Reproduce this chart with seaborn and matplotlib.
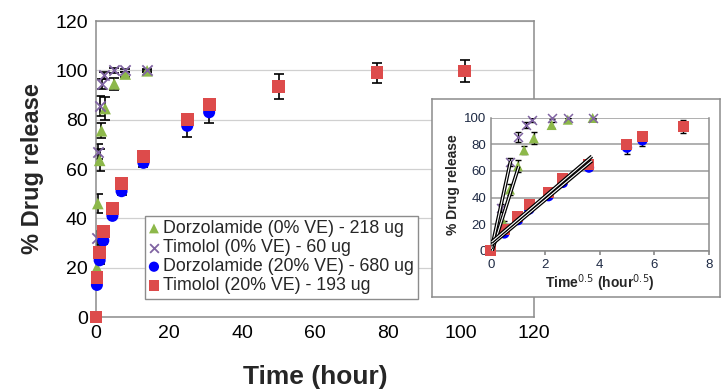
# Drug release profiles: main plot vs time, inset vs sqrt(time)

import numpy as np
import pandas as pd
import matplotlib
matplotlib.use("Agg")
import matplotlib.pyplot as plt
import seaborn as sns

# Data

labels = ["Dorzolamide (0% VE) - 218 ug", "Timolol (0% VE) - 60 ug",
          "Dorzolamide (20% VE) - 680 ug", "Timolol (20% VE) - 193 ug"]

dorz0_t = [0.25, 0.5, 1, 1.5, 2.5, 5, 8, 14]
dorz0_y = [20, 46, 63.5, 75.5, 84.5, 94.5, 98.5, 99.8]
dorz0_e = [2, 4, 4.5, 3, 4.5, 2.5, 1, 0.5]

tim0_t = [0.15, 0.5, 1, 1.7, 2.3, 5, 8, 14]
tim0_y = [32, 67, 85.5, 94.5, 98, 100, 100, 100]
tim0_e = [3, 3, 4, 2, 1.5, 1, 0.5, 0.5]

dorz20_t = [0.25, 1, 2, 4.5, 7, 13, 25, 31]
dorz20_y = [13, 23, 31, 41, 51, 62.5, 77.5, 83]
dorz20_e = [1, 1.5, 1.5, 1, 1.5, 1.5, 4.5, 4.5]

tim20_t = [0, 0.25, 1, 2, 4.5, 7, 13, 25, 31, 50, 77, 101]
tim20_y = [0, 16, 26, 34.5, 44, 54, 65, 80, 86, 93.5, 99, 99.7]
tim20_e = [0, 1, 1, 1.5, 1.5, 1, 1, 2, 2.5, 5, 4, 4.4]

# number of early points used for the sqrt(t) trend lines in the inset
fit_n = [3, 2, 6, 7]

colors = ["#8DB84A", "#8064A2", "#0000FF", "#DD4B4B"]
markers = ["^", "X", "o", "s"]

rows = []
for lab, t, y, e in zip(labels,
                        [dorz0_t, tim0_t, dorz20_t, tim20_t],
                        [dorz0_y, tim0_y, dorz20_y, tim20_y],
                        [dorz0_e, tim0_e, dorz20_e, tim20_e]):
    for ti, yi, ei in zip(t, y, e):
        rows.append({"series": lab, "time": ti, "sqrt_time": np.sqrt(ti),
                     "release": yi, "err": ei})
df = pd.DataFrame(rows)

# Plot

sns.set_theme(style="white")
plt.rcParams["font.family"] = ["Liberation Sans", "DejaVu Sans"]

fig = plt.figure(figsize=(7.23, 3.89), dpi=100)
ax = fig.add_axes([96 / 723, 72 / 389, 438 / 723, 296 / 389])

mk = {"^": dict(marker="^", s=70), "X": dict(marker="x", s=55),
      "o": dict(marker="o", s=75), "s": dict(marker="s", s=85)}

for lab, col, m in zip(labels, colors, markers):
    d = df[df.series == lab]
    ax.errorbar(d.time, d.release, yerr=d.err, fmt="none", ecolor="black",
                elinewidth=1.2, capsize=3.5, capthick=1.2, zorder=2)
for lab, col, m in zip(labels, colors, markers):
    d = df[df.series == lab]
    sns.scatterplot(x=d.time, y=d.release, ax=ax, color=col, label=lab,
                    edgecolor="none" if m != "X" else None,
                    linewidth=1.3 if m == "X" else 0,
                    zorder=3, clip_on=False, **mk[m])

ax.set_xlim(0, 120)
ax.set_ylim(0, 120)
ax.set_xticks(range(0, 121, 20))
ax.set_yticks(range(0, 121, 20))
ax.tick_params(labelsize=14, length=0, pad=6, colors="black")
ax.yaxis.grid(True, color="#D0D0D0", linewidth=0.9)
for s in ax.spines.values():
    s.set_color("#8C8C8C")
    s.set_linewidth(1.1)
ax.set_xlabel("Time (hour)", fontsize=19, fontweight="bold", labelpad=16)
ax.set_ylabel("% Drug release", fontsize=17, fontweight="bold", labelpad=8)

leg = ax.legend(loc="lower left", bbox_to_anchor=(0.112, 0.061),
                borderaxespad=0, fontsize=12.8, handlelength=0.5,
                handletextpad=0.25, labelspacing=0.12, borderpad=0.25,
                fancybox=False, framealpha=1, markerscale=0.85)
leg.get_frame().set_edgecolor("#8C8C8C")

# Inset frame
frame = fig.add_axes([432 / 723, 92 / 389, 288 / 723, 198 / 389])
frame.set_xticks([])
frame.set_yticks([])
frame.set_facecolor("white")
for s in frame.spines.values():
    s.set_color("#8C8C8C")
    s.set_linewidth(1.1)

ins = fig.add_axes([490.7 / 723, 138.3 / 389, 218 / 723, 133 / 389])
for lab, col, m in zip(labels, colors, markers):
    d = df[df.series == lab]
    ins.errorbar(d.sqrt_time, d.release, yerr=d.err, fmt="none",
                 ecolor="black", elinewidth=1, capsize=2.5, capthick=1,
                 zorder=2)
for lab, col, m in zip(labels, colors, markers):
    d = df[df.series == lab]
    k = dict(mk[m])
    k["s"] = k["s"] * 0.75
    sns.scatterplot(x=d.sqrt_time, y=d.release, ax=ins, color=col,
                    edgecolor="none" if m != "X" else None,
                    linewidth=1.1 if m == "X" else 0,
                    zorder=3, legend=False, clip_on=False, **k)

# sqrt(t) linear fits
for lab, n in zip(labels, fit_n):
    d = df[df.series == lab].sort_values("time")
    xs = d.sqrt_time.values[:n]
    ys = d.release.values[:n]
    if d.time.iloc[0] > 0:
        xs = np.r_[0, xs]
        ys = np.r_[0, ys]
    p = np.polyfit(xs, ys, 1)
    xx = np.array([0.03, xs.max() * 1.03])
    ins.plot(xx, np.polyval(p, xx), color="black", lw=2.6, zorder=4,
             solid_capstyle="butt")
    ins.plot(xx, np.polyval(p, xx), color="white", lw=0.8, zorder=4,
             solid_capstyle="butt")

ins.set_xlim(0, 8)
ins.set_ylim(0, 100)
ins.set_xticks(range(0, 9, 2))
ins.set_yticks(range(0, 101, 20))
ins.yaxis.grid(True, color="#9A9A9A", linewidth=1.1)
ins.tick_params(labelsize=9.5, colors="#1E2A44", pad=3)
ins.tick_params(axis="x", length=3, color="#8C8C8C", direction="out", bottom=True)
ins.tick_params(axis="y", length=0)
for s in ins.spines.values():
    s.set_color("#8C8C8C")
    s.set_linewidth(1.1)
ins.spines["top"].set_visible(False)
ins.set_xlabel("Time$^{0.5}$ (hour$^{0.5}$)", fontsize=10, fontweight="bold",
               labelpad=1)
ins.set_ylabel("% Drug release", fontsize=10, fontweight="bold", labelpad=3)

fig.savefig("out.png", dpi=100)
